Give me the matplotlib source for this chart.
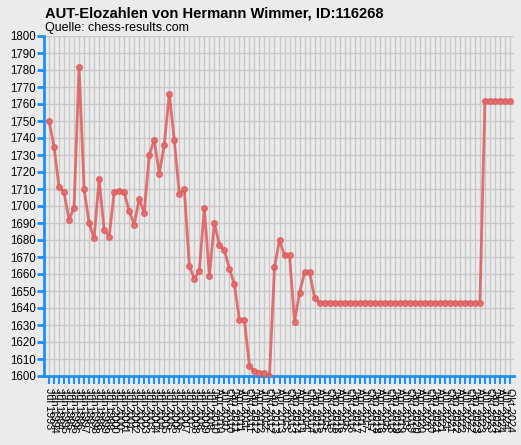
import matplotlib
matplotlib.use("Agg")
import matplotlib.pyplot as plt

plt.rcParams['font.family'] = ['Liberation Sans', 'DejaVu Sans']

title = "AUT-Elozahlen von Hermann Wimmer, ID:116268"
subtitle = "Quelle: chess-results.com"

dates = [
    "Jul 1993", "Jan 1994", "Jul 1994", "Jan 1995", "Jul 1995", "Jan 1996", "Jul 1996", "Jan 1997",
    "Jul 1997", "Jan 1998", "Jul 1998", "Jan 1999", "Jul 1999", "Jan 2000", "Jul 2000", "Jan 2001",
    "Jul 2001", "Jan 2002", "Jul 2002", "Jan 2003", "Jul 2003", "Jan 2004", "Jul 2004", "Jan 2005",
    "Jul 2005", "Jan 2006", "Jul 2006", "Jan 2007", "Jul 2007", "Jan 2008", "Jul 2008", "Jan 2009",
    "Jul 2009", "Jan 2010", "Apr 2010", "Jul 2010", "Okt 2010", "Jan 2011", "Apr 2011", "Jul 2011",
    "Okt 2011", "Jan 2012", "Apr 2012", "Jul 2012", "Okt 2012", "Jan 2013", "Apr 2013", "Jul 2013",
    "Okt 2013", "Jan 2014", "Apr 2014", "Jul 2014", "Okt 2014", "Jan 2015", "Apr 2015", "Jul 2015",
    "Okt 2015", "Jan 2016", "Apr 2016", "Jul 2016", "Okt 2016", "Jan 2017", "Apr 2017", "Jul 2017",
    "Okt 2017", "Jan 2018", "Apr 2018", "Jul 2018", "Okt 2018", "Jan 2019", "Apr 2019", "Jul 2019",
    "Okt 2019", "Jan 2020", "Apr 2020", "Jul 2020", "Okt 2020", "Jan 2021", "Apr 2021", "Jul 2021",
    "Okt 2021", "Jan 2022", "Apr 2022", "Jul 2022", "Okt 2022", "Jan 2023", "Apr 2023", "Jul 2023",
    "Okt 2023", "Jan 2024", "Apr 2024", "Jul 2024", "Okt 2024",
]

elo = [
    1750, 1735, 1711, 1708, 1692, 1699, 1782, 1710, 1690, 1681,
    1716, 1686, 1682, 1708, 1709, 1708, 1697, 1689, 1704, 1696,
    1730, 1739, 1719, 1736, 1766, 1739, 1707, 1710, 1665, 1657,
    1662, 1699, 1659, 1690, 1677, 1674, 1663, 1654, 1633, 1633,
    1606, 1603, 1602, 1602, 1600, 1664, 1680, 1671, 1671, 1632,
    1649, 1661, 1661, 1646, 1643, 1643, 1643, 1643, 1643, 1643,
    1643, 1643, 1643, 1643, 1643, 1643, 1643, 1643, 1643, 1643,
    1643, 1643, 1643, 1643, 1643, 1643, 1643, 1643, 1643, 1643,
    1643, 1643, 1643, 1643, 1643, 1643, 1643, 1762, 1762, 1762,
    1762, 1762, 1762,
]

y_ticks = list(range(1600, 1801, 10))

bg = "#EBEBEB"
blue = "#1E90FF"

fig = plt.figure(figsize=(5.21, 4.45), dpi=100, facecolor=bg)
ax = fig.add_axes([44 / 521, 1 - 376 / 445, (514 - 44) / 521, (376 - 36) / 445])
ax.set_facecolor(bg)

x = list(range(len(elo)))
ax.plot(x, elo, color="#E05A5A", alpha=0.85, linewidth=2, marker="o",
        markersize=4, markerfacecolor="#E06A6A", markeredgecolor="#E05A5A",
        markeredgewidth=1, zorder=3)

ax.set_xlim(-1, len(elo) - 0.2)
ax.set_ylim(1600, 1800)
ax.set_yticks(y_ticks)
ax.set_yticklabels([str(v) for v in y_ticks], fontsize=8.3)
ax.set_xticks(x)
ax.set_xticklabels(dates, rotation=270, fontsize=7.8, va="top", ha="center")

ax.grid(True, color="#C8C8C8", linewidth=1)
ax.set_axisbelow(True)

for s in ["top", "right"]:
    ax.spines[s].set_visible(False)
for s in ["left", "bottom"]:
    ax.spines[s].set_color(blue)
    ax.spines[s].set_linewidth(2)

ax.tick_params(axis="y", colors=blue, length=5, width=2, labelcolor="black", pad=1)
ax.tick_params(axis="x", colors=blue, length=6, width=1.5, labelcolor="black", pad=3)

fig.text(45 / 521, 1 - 17 / 445, title, fontsize=10.6, fontweight="bold", ha="left", va="baseline")
fig.text(45 / 521, 1 - 31 / 445, subtitle, fontsize=9, ha="left", va="baseline")

fig.savefig("out.png", dpi=100, facecolor=bg)
